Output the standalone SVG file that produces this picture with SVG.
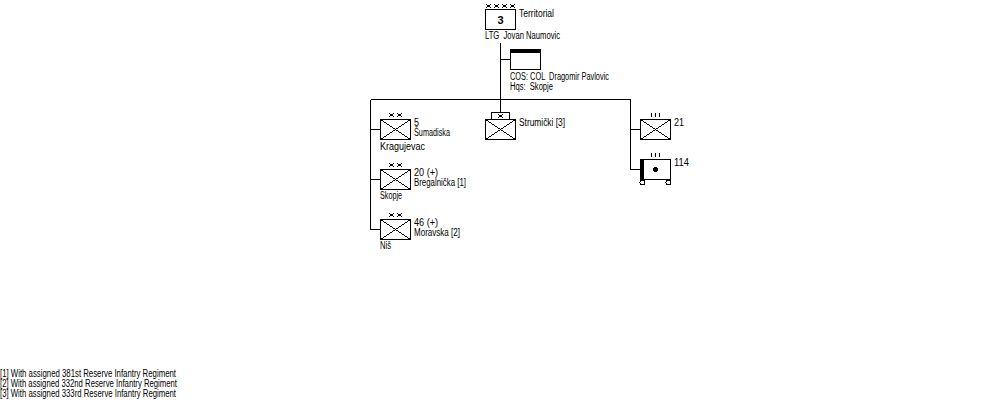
<svg xmlns="http://www.w3.org/2000/svg" xmlns:xlink="http://www.w3.org/1999/xlink" width="1000" height="400" viewBox="0 0 1000 400">
<style>
text{font-family:"Liberation Sans",Arial,sans-serif;font-size:10px;fill:#000}
.b{fill:#fff;stroke:#000;stroke-width:1}
.l{fill:none;stroke:#000;stroke-width:1}
.t{fill:none;stroke:#000;stroke-width:1}
g,path,rect,line,circle{shape-rendering:crispEdges}
</style>
<defs>
<g id="inf"><rect class="b" x="0.5" y="0.5" width="30" height="20"/><path class="l" d="M0.5 0.5L30.5 20.5M30.5 0.5L0.5 20.5"/></g>
<path id="x" class="t" d="M0 0L5 4M5 0L0 4"/>
<path id="iii" class="t" d="M0.5 0V4M4.5 0V4M8.5 0V4"/>
</defs>
<rect width="1000" height="400" fill="#fff"/>
<g id="connectors">
<path class="l" d="M500.5 43V112M500.5 59.5H510M370.5 99.5H630.5M370.5 99.5V229.5H380M370.5 129.5H380M370.5 179.5H380M630.5 99.5V169.5H640M630.5 129.5H640"/>
</g>
<g id="n-territorial">
<use href="#x" x="486" y="4"/><use href="#x" x="494" y="4"/><use href="#x" x="502" y="4"/><use href="#x" x="510" y="4"/>
<rect class="b" x="485.5" y="9.5" width="30" height="20"/>
<text x="500.5" y="24" text-anchor="middle" style="font-weight:bold;font-size:11px">3</text>
<text x="519" y="17" textLength="35" lengthAdjust="spacingAndGlyphs">Territorial</text>
<text x="485" y="39" textLength="75" lengthAdjust="spacingAndGlyphs" xml:space="preserve">LTG  Jovan Naumovic</text>
</g>
<g id="n-staff">
<rect class="b" x="510.5" y="49.5" width="30" height="20"/>
<rect x="510" y="49" width="31" height="4" fill="#000"/>
<text x="510" y="80" textLength="99" lengthAdjust="spacingAndGlyphs" xml:space="preserve">COS: COL  Dragomir Pavlovic</text>
<text x="510" y="90" textLength="43" lengthAdjust="spacingAndGlyphs" xml:space="preserve">Hqs:  Skopje</text>
</g>
<g id="n-strumicki">
<rect class="b" x="491.5" y="112.5" width="18" height="7"/>
<use href="#x" x="498" y="114"/>
<use href="#inf" x="485" y="119"/>
<text x="519" y="126" textLength="46" lengthAdjust="spacingAndGlyphs">Strumički [3]</text>
</g>
<g id="n-5">
<use href="#x" x="389" y="113"/><use href="#x" x="397" y="113"/>
<use href="#inf" x="380" y="119"/>
<text x="414" y="126" textLength="5" lengthAdjust="spacingAndGlyphs">5</text>
<text x="414" y="136" textLength="36" lengthAdjust="spacingAndGlyphs">Šumadiska</text>
<text x="380" y="150" textLength="45" lengthAdjust="spacingAndGlyphs">Kragujevac</text>
</g>
<g id="n-20">
<use href="#x" x="389" y="163"/><use href="#x" x="397" y="163"/>
<use href="#inf" x="380" y="169"/>
<text x="414" y="176" textLength="24" lengthAdjust="spacingAndGlyphs">20 (+)</text>
<text x="414" y="186" textLength="52" lengthAdjust="spacingAndGlyphs">Bregalnička [1]</text>
<text x="380" y="199" textLength="22" lengthAdjust="spacingAndGlyphs">Skopje</text>
</g>
<g id="n-46">
<use href="#x" x="389" y="213"/><use href="#x" x="397" y="213"/>
<use href="#inf" x="380" y="219"/>
<text x="414" y="226" textLength="24" lengthAdjust="spacingAndGlyphs">46 (+)</text>
<text x="414" y="236" textLength="46" lengthAdjust="spacingAndGlyphs">Moravska [2]</text>
<text x="380" y="249" textLength="11" lengthAdjust="spacingAndGlyphs">Niš</text>
</g>
<g id="n-21">
<use href="#iii" x="651" y="113"/>
<use href="#inf" x="640" y="119"/>
<text x="674" y="126" textLength="10" lengthAdjust="spacingAndGlyphs">21</text>
</g>
<g id="n-114">
<use href="#iii" x="651" y="153"/>
<rect class="b" x="640.5" y="159.5" width="30" height="20"/>
<rect x="640" y="159" width="4" height="21" fill="#000"/>
<circle cx="655.5" cy="169.5" r="2.5" fill="#000"/>
<circle cx="642.5" cy="182.5" r="2.5" fill="#fff" stroke="#000"/>
<circle cx="668.5" cy="182.5" r="2.5" fill="#fff" stroke="#000"/>
<text x="674" y="166" textLength="15" lengthAdjust="spacingAndGlyphs">114</text>
</g>
<g id="notes">
<text x="0" y="377" textLength="176" lengthAdjust="spacingAndGlyphs">[1] With assigned 381st Reserve Infantry Regiment</text>
<text x="0" y="387" textLength="177" lengthAdjust="spacingAndGlyphs">[2] With assigned 332nd Reserve Infantry Regiment</text>
<text x="0" y="397" textLength="176" lengthAdjust="spacingAndGlyphs">[3] With assigned 333rd Reserve Infantry Regiment</text>
</g>
</svg>
